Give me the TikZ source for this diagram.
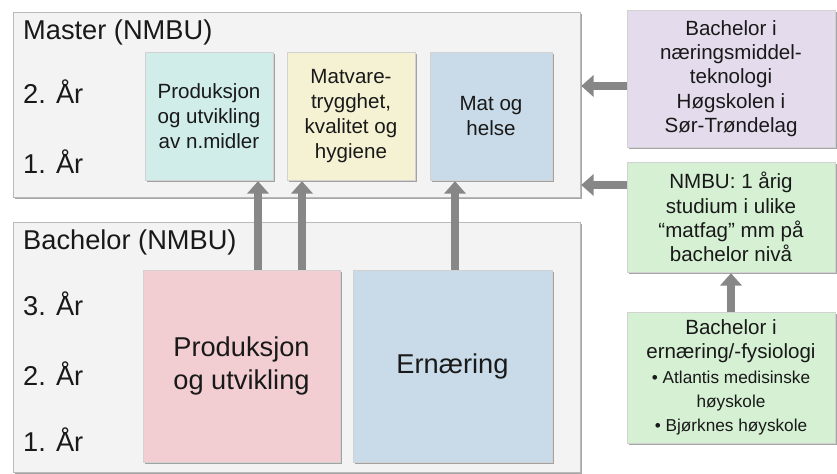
\documentclass[tikz,border=0pt]{standalone}
\usepackage{fontspec}
\setmainfont{Liberation Sans}
\usetikzlibrary{arrows.meta,positioning,shadows}
\definecolor{panelgray}{RGB}{243,243,243}
\definecolor{cyanbox}{RGB}{208,237,233}
\definecolor{yellowbox}{RGB}{244,242,211}
\definecolor{bluebox}{RGB}{201,219,232}
\definecolor{pinkbox}{RGB}{242,206,210}
\definecolor{purplebox}{RGB}{228,219,236}
\definecolor{greenbox}{RGB}{213,240,211}
\definecolor{arrowgray}{RGB}{135,135,135}
\definecolor{textgray}{RGB}{25,25,25}

\begin{document}
\begin{tikzpicture}[
panel/.style={
rectangle,
draw=gray!55,
fill=panelgray,
minimum width=113.4mm,
drop shadow={shadow xshift=1pt,shadow yshift=-1pt,opacity=0.7}
},
course/.style={
rectangle,
draw=gray!35,
thin,
align=center,
text=textgray,
drop shadow={shadow xshift=1.2pt,shadow yshift=-1.2pt,opacity=0.7}
},
small/.style={course,font=\fontsize{11.7}{14.2}\selectfont},
big/.style={course,font=\fontsize{15.5}{18.7}\selectfont},
side/.style={small,minimum width=41.6mm,font=\fontsize{11.7}{13.8}\selectfont},
year/.style={anchor=west,text=textgray,font=\fontsize{15.5}{18}\selectfont},
to/.style={-{Triangle[length=7pt,width=12pt]},line width=4pt,draw=arrowgray,shorten >=0.5pt},
]
\useasboundingbox (0,0) rectangle (16.74,9.48);

% master and bachelor panels
\node (master) [panel,minimum height=37mm] at (5.93,7.39) {};
\node (bachelor) [panel,minimum height=50mm] at (5.93,2.54) {};

\node (mtitle) [year] at (0.34,8.84) {Master (NMBU)};
\node (m2) [year] at (0.34,7.64) {2. År};
\node (m1) [year] at (0.34,6.24) {1. År};
\node (btitle) [year] at (0.34,4.64) {Bachelor (NMBU)};
\node (b3) [year] at (0.34,3.40) {3. År};
\node (b2) [year] at (0.34,2.00) {2. År};
\node (b1) [year] at (0.34,0.68) {1. År};

% master courses
\node (prodm) [small,fill=cyanbox,minimum width=25.6mm,minimum height=25.6mm] at (4.18,7.16) {Produksjon\\og utvikling\\av n.midler};
\node (safety) [small,fill=yellowbox,minimum width=25.6mm,minimum height=25.6mm] at (7.02,7.16) {Matvare-\\trygghet,\\kvalitet og\\hygiene};
\node (health) [small,fill=bluebox,minimum width=24.4mm,minimum height=25.6mm] at (9.82,7.16) {Mat og\\helse};

% bachelor courses
\node (prodb) [big,fill=pinkbox,minimum width=39.4mm,minimum height=38.4mm] at (4.83,2.16) {Produksjon\\og utvikling};
\node (nutr) [big,fill=bluebox,minimum width=39.8mm,minimum height=38.4mm] at (9.05,2.16) {Ernæring};

% other ways in
\node (hist) [side,fill=purplebox,minimum height=27.4mm] at (14.62,7.91) {Bachelor i\\næringsmiddel-\\teknologi\\Høgskolen i\\Sør-Trøndelag};
\node (oneyear) [side,fill=greenbox,minimum height=22mm] at (14.62,5.14) {NMBU: 1 årig\\studium i ulike\\“matfag” mm på\\bachelor nivå};
\node (nutrb) [side,fill=greenbox,minimum height=26.2mm] at (14.62,1.93) {Bachelor i\\ernæring/-fysiologi\\{\fontsize{9.8}{12.3}\selectfont \textbullet\ Atlantis medisinske}\\{\fontsize{9.8}{12.3}\selectfont høyskole}\\{\fontsize{9.8}{12.3}\selectfont \textbullet\ Bjørknes høyskole}};

\draw[to] ([xshift=3.3mm]prodb.north) -- ([xshift=3.3mm]prodb.north |- prodm.south);
\draw[to] ([xshift=12.1mm]prodb.north) -- ([xshift=12.1mm]prodb.north |- safety.south);
\draw[to] ([xshift=0.5mm]nutr.north) -- ([xshift=0.5mm]nutr.north |- health.south);
\draw[to] ([yshift=-1.5mm]hist.west) -- ([yshift=-1.5mm]hist.west -| master.east);
\draw[to] ([yshift=6.4mm]oneyear.west) -- ([yshift=6.4mm]oneyear.west -| master.east);
\draw[to] (nutrb) -- (oneyear);
\end{tikzpicture}
\end{document}
